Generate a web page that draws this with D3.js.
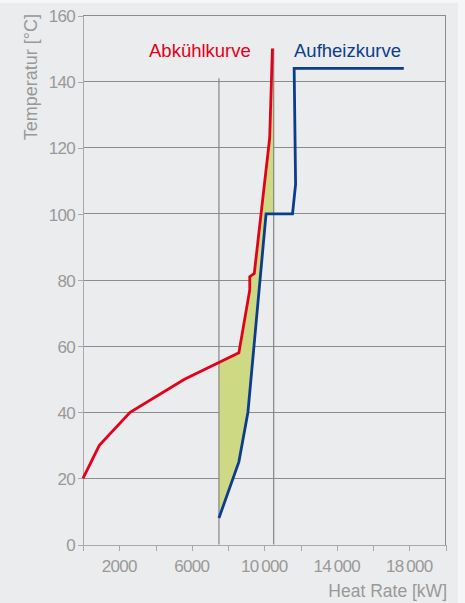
<!DOCTYPE html>
<meta charset="utf-8">
<style>
    body { margin: 0; background: #f6f6f6; }
    svg { display: block; }
    text { font-family: "Liberation Sans", Arial, sans-serif; }
    .axis path, .axis line { stroke: #a9a9a9; shape-rendering: crispEdges; }
    .axis text { fill: #999; font-size: 17px; letter-spacing: -0.7px; }
    .grid line { stroke: #8c8c8c; shape-rendering: crispEdges; }
</style>
<body>
<div class="chart"></div>
</body>
<script src="https://cdn.jsdelivr.net/npm/d3@7"></script>
<script>
    // Abkühlkurve (cooling curve): [heat rate kW, temperature °C]
    var coolCurve = [[0, 20], [900, 30], [2600, 40], [5600, 50], [8600, 58], [9200, 77],
        [9200, 81], [9450, 82], [10300, 123], [10450, 150]];
    // Aufheizkurve (heating curve)
    var heatCurve = [[7500, 8], [8600, 25], [9100, 40], [10100, 100], [11560, 100],
        [11730, 109], [11650, 144], [17700, 144]];
    // the two marker lines bounding the shaded overlap: [x, top temperature]
    var markers = [[7500, 141], [10520, 150]];

    var xTicks = [0, 2000, 4000, 6000, 8000, 10000, 12000, 14000, 16000, 18000, 20000];
    var xLabelTicks = [2000, 6000, 10000, 14000, 18000];
    var xLabels = ["2000", "6000", "10\u2009000", "14\u2009000", "18\u2009000"];
    var yTicks = [0, 20, 40, 60, 80, 100, 120, 140, 160];

    var W = 465, H = 603;
    var x = d3.scaleLinear().domain([0, 20000]).range([83, 445.5]);
    var y = d3.scaleLinear().domain([0, 160]).range([544.5, 15.5]);

    var svg = d3.select(".chart").append("svg")
        .attr("width", W).attr("height", H);

    svg.append("rect")
        .attr("x", 0).attr("y", 3).attr("width", 458).attr("height", H - 3)
        .attr("fill", "#ebeced");

    // horizontal grid (incl. top frame) and right frame
    var grid = svg.append("g").attr("class", "grid");
    grid.selectAll("line.h")
        .data(yTicks.filter(function (d) { return d > 0; }))
        .enter().append("line")
        .attr("class", "h")
        .attr("x1", x(0)).attr("x2", x(20000))
        .attr("y1", function (d) { return y(d); })
        .attr("y2", function (d) { return y(d); });
    grid.append("line")
        .attr("x1", x(20000)).attr("x2", x(20000))
        .attr("y1", y(160)).attr("y2", y(0));

    // shaded overlap: cooling curve on top, heating curve below, clipped between markers
    svg.append("clipPath").attr("id", "overlap")
        .append("rect")
        .attr("x", x(markers[0][0])).attr("y", y(160))
        .attr("width", x(markers[1][0]) - x(markers[0][0]))
        .attr("height", y(0) - y(160));

    var rightEdge = [[markers[1][0], markers[1][1]], [markers[1][0], 100]];
    var lowerPart = heatCurve.filter(function (d) { return d[1] <= 100 && d[0] <= 10100; }).reverse();
    var poly = coolCurve.concat(rightEdge, lowerPart);

    var line = d3.line().x(function (d) { return x(d[0]); }).y(function (d) { return y(d[1]); });

    svg.append("path")
        .datum(poly)
        .attr("clip-path", "url(#overlap)")
        .attr("fill", "#cdd983")
        .attr("d", line.curve(d3.curveLinearClosed));
    line.curve(d3.curveLinear);

    // marker lines
    svg.selectAll("line.marker")
        .data(markers)
        .enter().append("line")
        .attr("class", "marker")
        .attr("x1", function (d) { return x(d[0]); })
        .attr("x2", function (d) { return x(d[0]); })
        .attr("y1", function (d) { return y(d[1]); })
        .attr("y2", y(0))
        .attr("stroke", "#858585")
        .attr("stroke-width", 1.2);

    // axes
    svg.append("g")
        .attr("class", "y axis")
        .attr("transform", "translate(" + x(0) + ",0)")
        .call(d3.axisLeft(y).tickValues(yTicks).tickSize(5).tickPadding(3).tickSizeOuter(0))
        .selectAll("text").attr("dy", "0.36em");

    var xAxis = svg.append("g")
        .attr("class", "x axis")
        .attr("transform", "translate(0," + y(0) + ")")
        .call(d3.axisBottom(x).tickValues(xTicks).tickSize(6).tickFormat("").tickSizeOuter(0));

    xAxis.selectAll("text.lbl")
        .data(xLabelTicks)
        .enter().append("text")
        .attr("class", "lbl")
        .attr("x", function (d) { return x(d); })
        .attr("y", 27)
        .attr("text-anchor", "middle")
        .text(function (d, i) { return xLabels[i]; });

    svg.selectAll(".axis .domain").attr("stroke", "#a9a9a9");

    // curves
    svg.append("path")
        .datum(coolCurve)
        .attr("fill", "none")
        .attr("stroke", "#e2001a")
        .attr("stroke-width", 2.8)
        .attr("d", line);

    svg.append("path")
        .datum(heatCurve)
        .attr("fill", "none")
        .attr("stroke", "#0b3d8c")
        .attr("stroke-width", 2.8)
        .attr("d", line);

    // curve labels
    svg.append("text")
        .attr("x", 149).attr("y", 57)
        .attr("fill", "#e2001a")
        .style("font-size", "18.5px")
        .text("Abkühlkurve");

    svg.append("text")
        .attr("x", 294).attr("y", 57)
        .attr("fill", "#0b3d8c")
        .style("font-size", "18.5px")
        .text("Aufheizkurve");

    // axis titles
    svg.append("text")
        .attr("transform", "translate(37,14) rotate(-90)")
        .attr("text-anchor", "end")
        .attr("fill", "#999")
        .style("font-size", "18px")
        .text("Temperatur [°C]");

    svg.append("text")
        .attr("x", 447).attr("y", 597)
        .attr("text-anchor", "end")
        .attr("fill", "#999")
        .style("font-size", "17.5px")
        .text("Heat Rate [kW]");
</script>
